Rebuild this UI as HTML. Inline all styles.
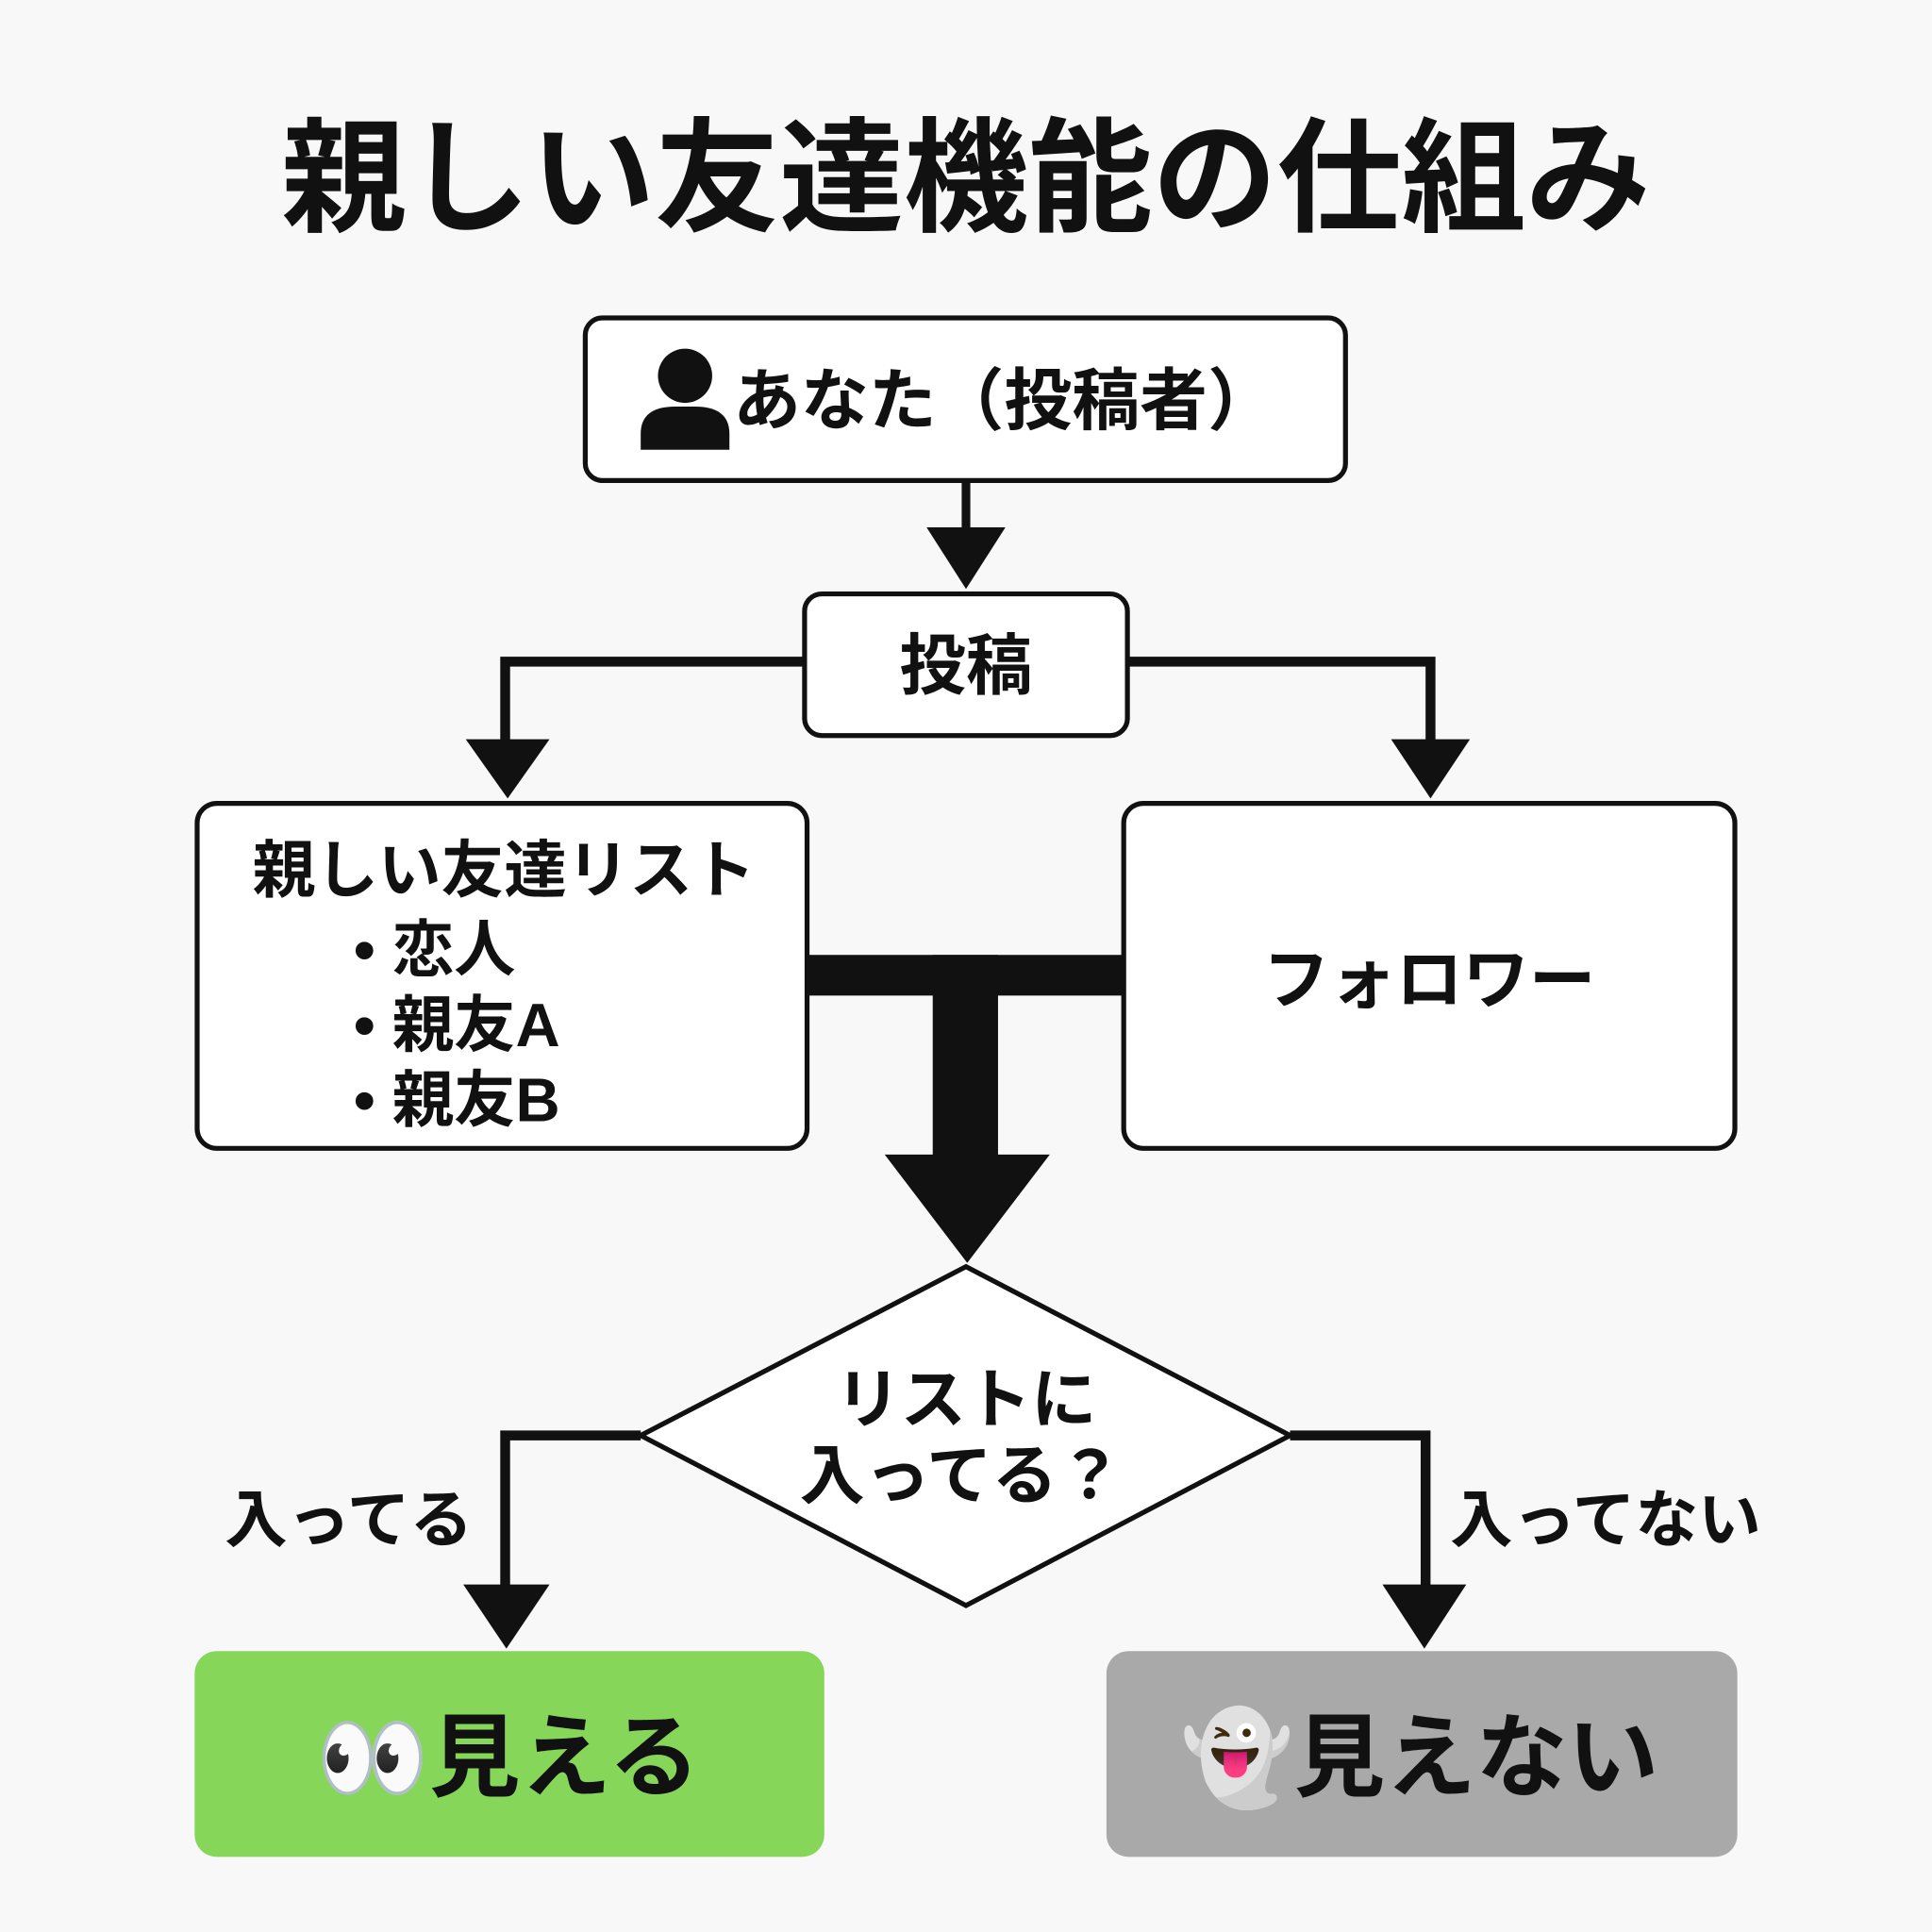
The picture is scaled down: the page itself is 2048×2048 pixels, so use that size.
<!DOCTYPE html>
<html><head><meta charset="utf-8"><style>
html,body{margin:0;padding:0;background:#f8f8f8;}
svg{display:block;}
text{font-family:"Liberation Sans","Noto Sans CJK JP",sans-serif;font-weight:bold;fill:#111;}
</style></head><body>
<svg width="2048" height="2048" viewBox="0 0 1568 1568" xmlns="http://www.w3.org/2000/svg">
<rect width="1568" height="1568" fill="#f8f8f8"/>
<text x="784" y="180" font-size="101" text-anchor="middle">親しい友達機能の仕組み</text>

<rect x="475" y="258" width="617" height="132" rx="14" fill="#fff" stroke="#111" stroke-width="4"/>
<circle cx="556" cy="305" r="22" fill="#111"/>
<path d="M520 365 L520 352 Q520 330 548 330 L564 330 Q592 330 592 352 L592 365 Z" fill="#111"/>
<text x="815" y="344" font-size="55" text-anchor="middle">あなた（投稿者）</text>

<line x1="784" y1="390" x2="784" y2="432" stroke="#111" stroke-width="7"/>
<polygon points="752,428 816,428 784,478" fill="#111"/>

<rect x="653" y="482" width="262" height="115" rx="14" fill="#fff" stroke="#111" stroke-width="4"/>
<text x="784" y="559" font-size="54" text-anchor="middle">投稿</text>

<polyline points="653,537 410,537 410,604" fill="none" stroke="#111" stroke-width="8"/>
<polygon points="378,600 446,600 412,648" fill="#111"/>
<polyline points="915,537 1161,537 1161,604" fill="none" stroke="#111" stroke-width="8"/>
<polygon points="1129,600 1193,600 1161,648" fill="#111"/>

<rect x="160" y="652" width="495" height="280" rx="16" fill="#fff" stroke="#111" stroke-width="4"/>
<text x="409" y="724" font-size="51" text-anchor="middle">親しい友達リスト</text>
<text x="287" y="788" font-size="50">• 恋人</text>
<text x="287" y="849" font-size="50">• 親友A</text>
<text x="287" y="910" font-size="50">• 親友B</text>

<rect x="912" y="652" width="496" height="280" rx="16" fill="#fff" stroke="#111" stroke-width="4"/>
<text x="1160" y="814" font-size="54" text-anchor="middle">フォロワー</text>

<rect x="655" y="775" width="257" height="33" fill="#111"/>
<rect x="757" y="775" width="53" height="165" fill="#111"/>
<polygon points="718,937 852,937 785,1025" fill="#111"/>

<polygon points="784,1028 1047,1165 784,1303 520,1165" fill="#fff" stroke="#111" stroke-width="4"/>
<text x="784" y="1154" font-size="53" text-anchor="middle">リストに</text>
<text x="780" y="1216" font-size="53" text-anchor="middle">入ってる？</text>

<polyline points="520,1165 410,1165 410,1290" fill="none" stroke="#111" stroke-width="8"/>
<polygon points="376,1286 446,1286 411,1338" fill="#111"/>
<text x="283" y="1251" font-size="51" text-anchor="middle">入ってる</text>
<polyline points="1047,1165 1157,1165 1157,1290" fill="none" stroke="#111" stroke-width="8"/>
<polygon points="1122,1286 1190,1286 1156,1338" fill="#111"/>
<text x="1303" y="1251" font-size="51" text-anchor="middle">入ってない</text>

<rect x="158" y="1340" width="511" height="167" rx="18" fill="#86d65a"/>
<text x="412" y="1452" font-size="74" text-anchor="middle">👀見える</text>
<rect x="898" y="1340" width="512" height="167" rx="18" fill="#a9a9a9"/>
<text x="1152" y="1452" font-size="74" text-anchor="middle">👻見えない</text>
</svg>
</body></html>
